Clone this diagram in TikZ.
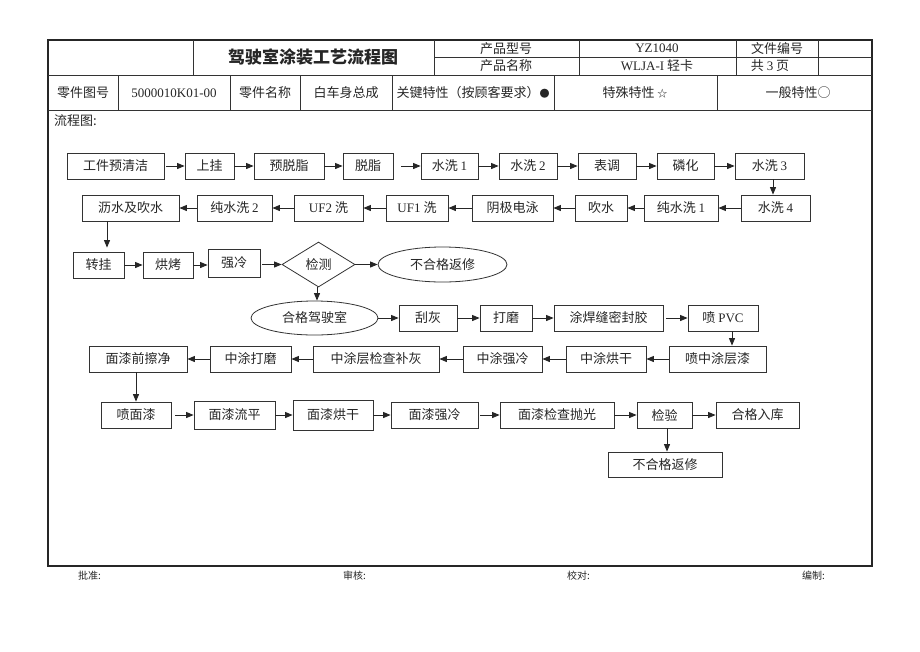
\documentclass[tikz,border=0pt]{standalone}
\usepackage{fontspec}
\setmainfont{Liberation Serif}
\newfontfamily\cjk{Noto Sans CJK SC}
\usetikzlibrary{arrows.meta,shapes.geometric}
\newcommand\latn[1]{{\rmfamily #1}}
\newcommand\mnt[1]{{\rmfamily\fontsize{13}{15}\selectfont #1}}
\newcommand\smsym[1]{{\fontsize{10}{12}\selectfont #1}}
\tikzset{
  bx/.style={draw=black!80, line width=0.8pt, minimum height=26, inner sep=0pt,
    font=\cjk\fontsize{13}{15}\selectfont, text=black!85},
  ell/.style={bx, ellipse},
  dia/.style={bx, diamond, aspect=1.6},
  arr/.style={-{Triangle[length=7.5pt,width=6pt]}, line width=0.9pt, draw=black!85},
  hd/.style={inner sep=0pt, font=\cjk\fontsize{13}{15}\selectfont, text=black!85},
  sig/.style={inner sep=0pt, anchor=west, font=\cjk\fontsize{10}{12}\selectfont, text=black!85},
  gridl/.style={line width=0.8pt, draw=black!80},
}
\begin{document}
\begin{tikzpicture}[x=1pt,y=-1pt]
\useasboundingbox (0,0) rectangle (920,651);
\fill[white] (0,0) rectangle (920,651);
% ---------- frame and header table ----------
\draw[line width=1.3pt, black!85] (48,40) rectangle (872,566);
\draw[gridl] (48,75) -- (872,75);
\draw[gridl] (48,110) -- (872,110);
\foreach \x in {193,434,579,736,818} \draw[gridl] (\x,40) -- (\x,75);
\draw[gridl] (434,57) -- (872,57);
\foreach \x in {118,230,300,392,554,717} \draw[gridl] (\x,75) -- (\x,110);
\node[hd, font=\cjk\bfseries\fontsize{17}{19}\selectfont] (title) at (313,57) {驾驶室涂装工艺流程图};
\node[hd] (h1) at (506,48.5) {产品型号};
\node[hd] (h2) at (506,66) {产品名称};
\node[hd] (h3) at (657,48.5) {\mnt{YZ1040}};
\node[hd] (h4) at (657,66) {\mnt{WLJA-I} 轻卡};
\node[hd] (h5) at (777,48.5) {文件编号};
\node[hd] (h6) at (770,66) {共 \mnt{3} 页};
\node[hd] (k1) at (83,93) {零件图号};
\node[hd] (k2) at (174,93) {\mnt{5000010K01-00}};
\node[hd] (k3) at (265,93) {零件名称};
\node[hd] (k4) at (346,93) {白车身总成};
\node[hd] (k5) at (473,93) {关键特性（按顾客要求）\smsym{●}};
\node[hd] (k6) at (635,93) {特殊特性 \smsym{☆}};
\node[hd] (k7) at (798,93) {一般特性○};
\node[hd, anchor=west] (lc) at (54,121) {流程图:};
% ---------- row 1 ----------
\node[bx, minimum width=97] (a1) at (115.5,166) {工件预清洁};
\node[bx, minimum width=49] (a2) at (209.5,166) {上挂};
\node[bx, minimum width=70] (a3) at (289,166) {预脱脂};
\node[bx, minimum width=50] (a4) at (368,166) {脱脂};
\node[bx, minimum width=57] (a5) at (449.5,166) {水洗 \latn{1}};
\node[bx, minimum width=58] (a6) at (528,166) {水洗 \latn{2}};
\node[bx, minimum width=58] (a7) at (607,166) {表调};
\node[bx, minimum width=57] (a8) at (685.5,166) {磷化};
\node[bx, minimum width=69] (a9) at (769.5,166) {水洗 \latn{3}};
% ---------- row 2 ----------
\node[bx, minimum width=97] (b1) at (130.5,208) {沥水及吹水};
\node[bx, minimum width=75] (b2) at (234.5,208) {纯水洗 \latn{2}};
\node[bx, minimum width=69] (b3) at (328.5,208) {\latn{UF2} 洗};
\node[bx, minimum width=62] (b4) at (417,208) {\latn{UF1} 洗};
\node[bx, minimum width=81] (b5) at (512.5,208) {阴极电泳};
\node[bx, minimum width=52] (b6) at (601,208) {吹水};
\node[bx, minimum width=74] (b7) at (681,208) {纯水洗 \latn{1}};
\node[bx, minimum width=69] (b8) at (775.5,208) {水洗 \latn{4}};
% ---------- row 3 ----------
\node[bx, minimum width=51] (c1) at (98.5,265) {转挂};
\node[bx, minimum width=50] (c2) at (168,265) {烘烤};
\node[bx, minimum width=52, minimum height=28] (c3) at (234,263) {强冷};
\node[dia, minimum width=73, minimum height=45] (c4) at (318.5,264.5) {检测};
\node[ell, minimum width=129, minimum height=35] (c5) at (442.5,264.5) {不合格返修};
% ---------- row 4 ----------
\node[ell, minimum width=127, minimum height=34] (d1) at (314.5,318) {合格驾驶室};
\node[bx, minimum width=58] (d2) at (428,318) {刮灰};
\node[bx, minimum width=52] (d3) at (506,318) {打磨};
\node[bx, minimum width=109] (d4) at (608.5,318) {涂焊缝密封胶};
\node[bx, minimum width=70] (d5) at (723,318) {喷 \latn{PVC}};
% ---------- row 5 ----------
\node[bx, minimum width=97] (e1) at (717.5,359) {喷中涂层漆};
\node[bx, minimum width=80] (e2) at (606,359) {中涂烘干};
\node[bx, minimum width=79] (e3) at (502.5,359) {中涂强冷};
\node[bx, minimum width=126] (e4) at (376,359) {中涂层检查补灰};
\node[bx, minimum width=81] (e5) at (250.5,359) {中涂打磨};
\node[bx, minimum width=98] (e6) at (138,359) {面漆前擦净};
% ---------- row 6 ----------
\node[bx, minimum width=70] (f1) at (136,415) {喷面漆};
\node[bx, minimum width=81, minimum height=28] (f2) at (234.5,415) {面漆流平};
\node[bx, minimum width=80, minimum height=30] (f3) at (333,415) {面漆烘干};
\node[bx, minimum width=87] (f4) at (434.5,415) {面漆强冷};
\node[bx, minimum width=114] (f5) at (557,415) {面漆检查抛光};
\node[bx, minimum width=55] (f6) at (664.5,415) {检验};
\node[bx, minimum width=83] (f7) at (757.5,415) {合格入库};
\node[bx, minimum width=114, minimum height=25] (g1) at (665,464.5) {不合格返修};
% ---------- signatures ----------
\node[sig] (s1) at (78,576) {批准:};
\node[sig] (s2) at (343,576) {审核:};
\node[sig] (s3) at (567,576) {校对:};
\node[sig] (s4) at (802,576) {编制:};
% ---------- connectors ----------
\draw[arr, shorten <=2pt] (a1) -- (a2);
\draw[arr] (a2) -- (a3);
\draw[arr] (a3) -- (a4);
\draw[arr, shorten <=8pt] (a4) -- (a5);
\draw[arr] (a5) -- (a6);
\draw[arr] (a6) -- (a7);
\draw[arr] (a7) -- (a8);
\draw[arr] (a8) -- (a9);
\draw[arr] ([xshift=3.5]a9.south) -- ([xshift=3.5]a9.south |- b8.north);
\draw[arr] (b8) -- (b7);
\draw[arr] (b7) -- (b6);
\draw[arr] (b6) -- (b5);
\draw[arr] (b5) -- (b4);
\draw[arr] (b4) -- (b3);
\draw[arr] (b3) -- (b2);
\draw[arr] (b2) -- (b1);
\draw[arr, shorten >=4pt] ([xshift=-23.5]b1.south) -- ([xshift=-23.5]b1.south |- c1.north);
\draw[arr] (c1) -- (c2);
\draw[arr] (c2) -- (c3.west |- c2.east);
\draw[arr, shorten <=2pt] (c3.east |- c4.west) -- (c4.west);
\draw[arr] (c4.east) -- (c5.west);
\draw[arr] ([xshift=-1.5]c4.south) -- ([xshift=-1.5]c4.south |- d1.north);
\draw[arr] (d1.east) -- (d2.west);
\draw[arr] (d2) -- (d3);
\draw[arr] (d3) -- (d4);
\draw[arr, shorten <=3pt] (d4) -- (d5);
\draw[arr] ([xshift=9]d5.south) -- ([xshift=9]d5.south |- e1.north);
\draw[arr] (e1) -- (e2);
\draw[arr] (e2) -- (e3);
\draw[arr] (e3) -- (e4);
\draw[arr] (e4) -- (e5);
\draw[arr] (e5) -- (e6);
\draw[arr] ([xshift=-2]e6.south) -- ([xshift=-2]e6.south |- f1.north);
\draw[arr, shorten <=4pt] (f1) -- (f2);
\draw[arr] (f2) -- (f3);
\draw[arr] (f3) -- (f4);
\draw[arr, shorten <=2pt] (f4) -- (f5);
\draw[arr] (f5) -- (f6);
\draw[arr] (f6) -- (f7);
\draw[arr] ([xshift=2.5]f6.south) -- ([xshift=2.5]f6.south |- g1.north);
\end{tikzpicture}
\end{document}
